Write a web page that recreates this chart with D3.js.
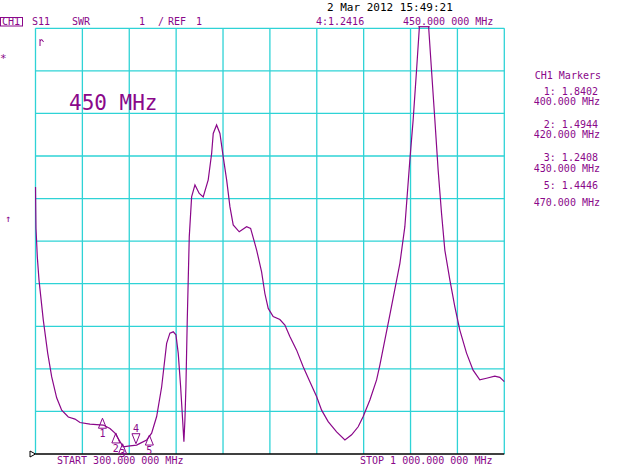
<!DOCTYPE html>
<html><head><meta charset="utf-8">
<script src="https://cdn.jsdelivr.net/npm/d3@7"></script>
<style>
html,body{margin:0;padding:0;background:#fff;}
svg{display:block;}
text{font-family:"DejaVu Sans Mono",monospace;}
</style></head>
<body><svg id="c" width="640" height="465"></svg>
<script>
// ---- data ----
const freqs = [300,300.7,302.7,305.2,311.6,318.2,324.2,331.6,339.1,349.0,359.0,366.4,381.3,401.2,411.2,418.7,426.2,431.0,441.0,451.0,456.0,466.0,473.4,480.9,488.4,495.8,500.7,505.7,509.7,513.1,516.7,519.7,521.6,523.1,524.6,526.6,529.6,533.1,538.1,544.5,550.4,557.9,563.0,565.4,570.4,575.4,580.3,585.4,590.3,595.2,604.2,615.2,621.2,630.2,637.6,642.5,647.5,654.9,664.9,672.4,679.8,689.9,699.7,709.7,719.7,727.2,737.0,749.6,762.0,772.0,781.8,789.3,799.3,809.3,814.2,829.1,844.1,851.5,859.0,863.9,869.0,873.9,879.9,886.3,891.3,896.3,901.2,906.3,911.2,918.7,926.1,933.6,943.6,953.4,963.4,973.4,985.8,993.3,1000];
const swr = [7.27,6.31,5.63,5.09,4.15,3.37,2.81,2.32,2.03,1.87,1.82,1.74,1.70,1.68,1.60,1.49,1.29,1.17,1.19,1.21,1.25,1.33,1.49,1.88,2.58,3.60,3.84,3.87,3.80,3.37,2.58,1.80,1.29,1.80,2.58,4.15,6.10,7.04,7.32,7.12,7.04,7.44,8.06,8.53,8.73,8.53,7.98,7.44,6.81,6.38,6.22,6.34,6.30,5.79,5.28,4.77,4.42,4.23,4.16,4.03,3.76,3.44,3.05,2.70,2.35,2.03,1.76,1.52,1.33,1.45,1.64,1.88,2.27,2.74,3.09,4.27,5.48,6.34,7.91,8.85,10.02,11.2,11.3,11.2,10.02,8.85,7.67,6.65,5.79,5.09,4.46,3.91,3.37,2.97,2.74,2.78,2.83,2.80,2.70];
const xTicks = [300,370,440,510,580,650,720,790,860,930,1000];
const yTicks = [1,2,3,4,5,6,7,8,9,10,11];
const markerIds = ["1","2","3","4","5"];
const markerFreqs = [400,420,430,450,470];
const markerVals = [1.8402,1.4944,1.2408,1.2416,1.4446];
const markerDown = [false,false,false,true,false];
const markerList = [["1: 1.8402","400.000 MHz"],["2: 1.4944","420.000 MHz"],["3: 1.2408","430.000 MHz"],["5: 1.4446","470.000 MHz"]];

// ---- drawing ----
const PURPLE = "#8a078a", CYAN = "#2ed3d6";
const svg = d3.select("#c");
const x = d3.scaleLinear().domain([300,1000]).range([35.5,504.3]);
const y = d3.scaleLinear().domain([1,11]).range([454,28.3]);

// grid
svg.append("g").selectAll("line.v").data(xTicks).join("line")
  .attr("x1",d=>x(d)).attr("x2",d=>x(d)).attr("y1",y(11)).attr("y2",y(1))
  .attr("stroke",CYAN).attr("stroke-width",1.3);
svg.append("g").selectAll("line.h").data(yTicks.slice(1)).join("line")
  .attr("x1",x(300)).attr("x2",x(1000)).attr("y1",d=>y(d)).attr("y2",d=>y(d))
  .attr("stroke",CYAN).attr("stroke-width",1.3);
// bottom reference line
svg.append("line").attr("x1",x(300)).attr("x2",x(1000)).attr("y1",y(1)).attr("y2",y(1))
  .attr("stroke","#000").attr("stroke-width",1.3);
svg.append("path").attr("d",`M${x(300)-5.5},${y(1)-3}L${x(300)},${y(1)}L${x(300)-5.5},${y(1)+3}Z`)
  .attr("fill","none").attr("stroke","#000").attr("stroke-width",1);

// trace
svg.append("clipPath").attr("id","clip").append("rect")
  .attr("x",x(300)-1).attr("y",26.6).attr("width",x(1000)-x(300)+2).attr("height",y(1)-26.6);
const line = d3.line().x((d,i)=>x(freqs[i])).y(d=>y(d));
svg.append("path").datum(swr).attr("d",line).attr("clip-path","url(#clip)")
  .attr("fill","none").attr("stroke",PURPLE).attr("stroke-width",1.2);
// flat clipped top
const over = freqs.filter((f,i)=>swr[i]>=y.invert(26.6));
if(over.length){
  svg.append("line").attr("x1",x(d3.min(over))-1.5).attr("x2",x(d3.max(over))+1.5)
    .attr("y1",26.7).attr("y2",26.7).attr("stroke",PURPLE).attr("stroke-width",1.2);
}

// markers
markerIds.forEach((id,i)=>{
  const mx = x(markerFreqs[i]), my = y(markerVals[i]);
  const g = svg.append("g");
  if(!markerDown[i]){
    g.append("path").attr("d",`M${mx},${my}L${mx-4},${my+10}L${mx+4},${my+10}Z`)
      .attr("fill","none").attr("stroke",PURPLE).attr("stroke-width",1);
    g.append("text").attr("x",mx).attr("y",Math.min(my+19,457)).attr("text-anchor","middle")
      .attr("font-size",10).attr("fill",PURPLE).text(id);
  } else {
    g.append("path").attr("d",`M${mx},${my}L${mx-4},${my-10}L${mx+4},${my-10}Z`)
      .attr("fill","none").attr("stroke",PURPLE).attr("stroke-width",1);
    g.append("text").attr("x",mx).attr("y",my-12).attr("text-anchor","middle")
      .attr("font-size",10).attr("fill",PURPLE).text(id);
  }
});

// header texts
const T = (tx,ty,s,opt={}) => svg.append("text").attr("x",tx).attr("y",ty)
  .attr("font-size",opt.size||10).attr("fill",opt.fill||PURPLE)
  .attr("text-anchor",opt.anchor||"start").text(s);
T(327,10.5,"2 Mar 2012  15:49:21",{size:11,fill:"#000"});
svg.append("rect").attr("x",0.5).attr("y",17.5).attr("width",22).attr("height",8.5)
  .attr("fill","none").attr("stroke",PURPLE).attr("stroke-width",1);
T(2,25,"CH1");
T(32,25,"S11");
T(72,25,"SWR");
T(139,25,"1");
T(158,25,"/");
T(168,25,"REF");
T(196,25,"1");
T(316,25,"4:1.2416");
T(403,25,"450.000 000 MHz");
// left symbols
T(0,62,"*",{size:11});
T(5,222,"↑",{size:10});
svg.append("path").attr("d","M40,39V46M40,41L42,39.5L43.5,42")
  .attr("fill","none").attr("stroke",PURPLE).attr("stroke-width",1);
// big label
svg.append("text").attr("x",69).attr("y",110).attr("font-size",21)
  .attr("font-weight",200).attr("fill",PURPLE).text("450 MHz");
// marker list
T(601,79,"CH1 Markers",{anchor:"end"});
const rows = [[95,105],[128,138],[161,171.5],[189,206]];
markerList.forEach((m,i)=>{
  T(598,rows[i][0],m[0],{anchor:"end"});
  T(600,rows[i][1],m[1],{anchor:"end"});
});
// start / stop
T(57,464,"START 300.000 000 MHz");
T(360,464,"STOP 1 000.000 000 MHz");
</script></body></html>
